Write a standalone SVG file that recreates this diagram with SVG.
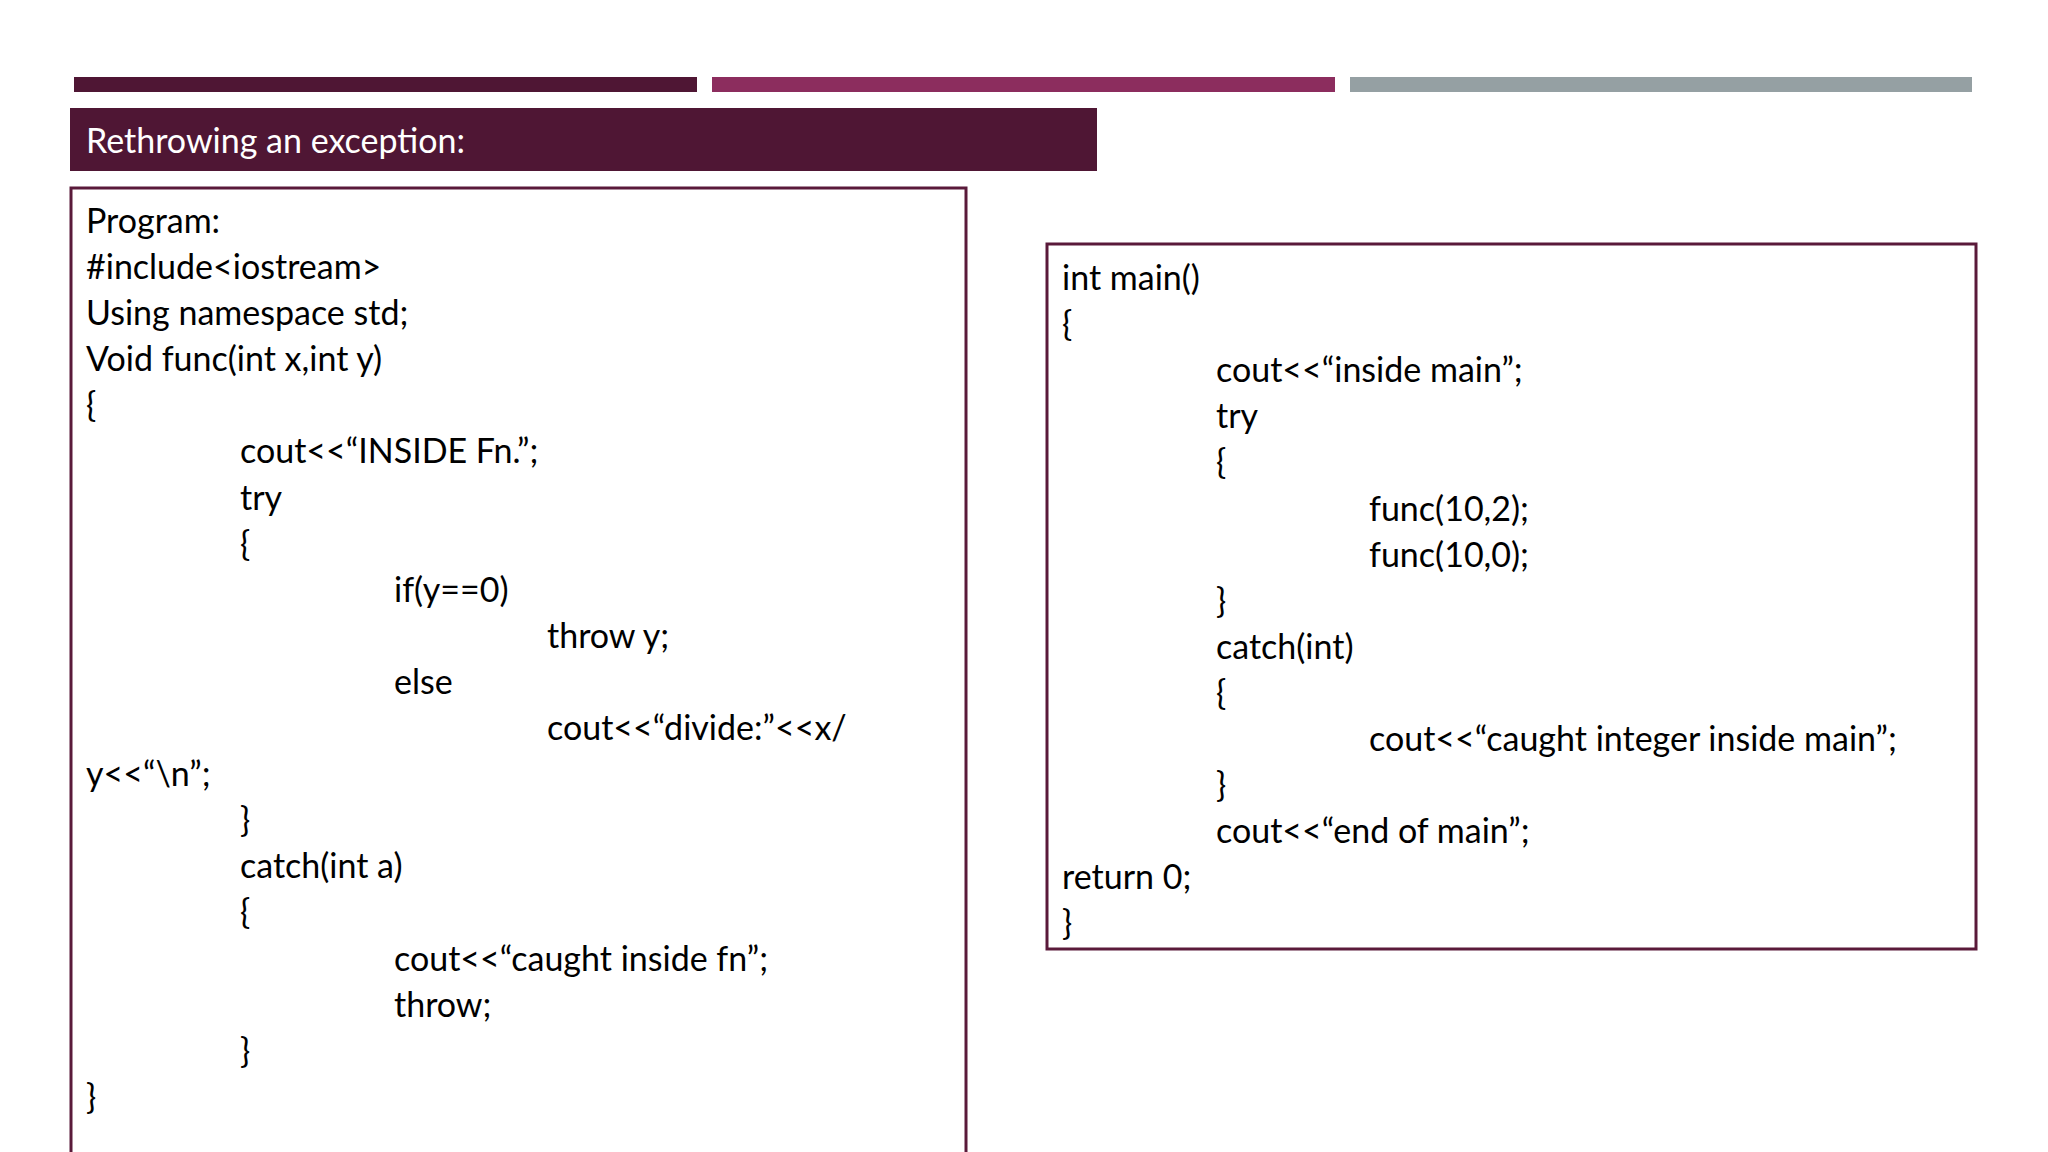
<svg xmlns="http://www.w3.org/2000/svg" width="2048" height="1152" viewBox="0 0 2048 1152">
<style>
.t{font-family:Lato,"Open Sans",sans-serif;font-size:34px;fill:#000}
.box{fill:#fff;stroke:#5a1a3a;stroke-width:3}
</style>
<rect width="2048" height="1152" fill="#fff"/>
<g id="bars">
<rect x="74" y="77" width="623" height="15" fill="#4f1634"/>
<rect x="712" y="77" width="623" height="15" fill="#8c2d5e"/>
<rect x="1350" y="77" width="622" height="15" fill="#95a0a3"/>
</g>
<g id="title">
<rect x="70" y="108" width="1027" height="63" fill="#4f1634"/>
<text x="86" y="153" class="t" style="fill:#fff">Rethrowing an exception:</text>
</g>
<g id="left">
<rect class="box" x="71" y="188" width="895" height="980"/>
<text class="t" x="86" y="233">Program:</text>
<text class="t" x="86" y="279">#include&lt;iostream&gt;</text>
<text class="t" x="86" y="325">Using namespace std;</text>
<text class="t" x="86" y="371">Void func(int x,int y)</text>
<text class="t" x="86" y="417">{</text>
<text class="t" x="240" y="463">cout&lt;&lt;“INSIDE Fn.”;</text>
<text class="t" x="240" y="510">try</text>
<text class="t" x="240" y="556">{</text>
<text class="t" x="394" y="602">if(y==0)</text>
<text class="t" x="547" y="648">throw y;</text>
<text class="t" x="394" y="694">else</text>
<text class="t" x="547" y="740">cout&lt;&lt;“divide:”&lt;&lt;x/</text>
<text class="t" x="86" y="786">y&lt;&lt;“\n”;</text>
<text class="t" x="240" y="832">}</text>
<text class="t" x="240" y="878">catch(int a)</text>
<text class="t" x="240" y="924">{</text>
<text class="t" x="394" y="971">cout&lt;&lt;“caught inside fn”;</text>
<text class="t" x="394" y="1017">throw;</text>
<text class="t" x="240" y="1063">}</text>
<text class="t" x="86" y="1109">}</text>
</g>
<g id="right">
<rect class="box" x="1047" y="244" width="929" height="705"/>
<text class="t" x="1062" y="290">int main()</text>
<text class="t" x="1062" y="336">{</text>
<text class="t" x="1216" y="382">cout&lt;&lt;“inside main”;</text>
<text class="t" x="1216" y="428">try</text>
<text class="t" x="1216" y="474">{</text>
<text class="t" x="1369" y="521">func(10,2);</text>
<text class="t" x="1369" y="567">func(10,0);</text>
<text class="t" x="1216" y="613">}</text>
<text class="t" x="1216" y="659">catch(int)</text>
<text class="t" x="1216" y="705">{</text>
<text class="t" x="1369" y="751">cout&lt;&lt;“caught integer inside main”;</text>
<text class="t" x="1216" y="797">}</text>
<text class="t" x="1216" y="843">cout&lt;&lt;“end of main”;</text>
<text class="t" x="1062" y="889">return 0;</text>
<text class="t" x="1062" y="935">}</text>
</g>
<g id="connectors"/>
</svg>
